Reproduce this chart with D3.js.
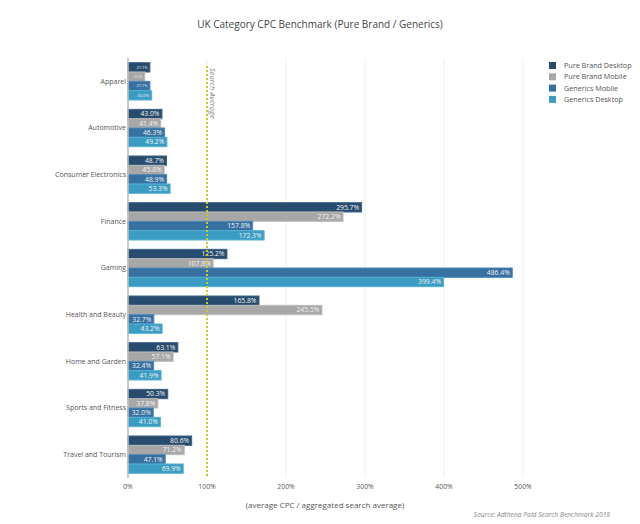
<!DOCTYPE html>
<html>
<head>
<meta charset="utf-8">
<script src="https://cdn.jsdelivr.net/npm/d3@7"></script>
<style>
  body { margin: 0; background: #fff; }
  text { font-family: "Open Sans", sans-serif; }
</style>
</head>
<body>
<div id="chart"></div>
<script>
const categories = ["Apparel", "Automotive", "Consumer Electronics", "Finance", "Gaming",
  "Health and Beauty", "Home and Garden", "Sports and Fitness", "Travel and Tourism"];
const seriesNames = ["Pure Brand Desktop", "Pure Brand Mobile", "Generics Mobile", "Generics Desktop"];
const seriesColors = ["#284c6e", "#a7a7a7", "#3771a2", "#3a9cc2"];
const seriesStroke = ["#3d6489", "#bdbdbd", "#4d87b8", "#56b2d4"];
const pureBrandDesktop = [27.7, 43.0, 48.7, 295.7, 125.2, 165.8, 63.1, 50.3, 80.6];
const pureBrandMobile = [21.2, 41.4, 45.8, 272.2, 107.8, 245.5, 57.1, 37.8, 71.2];
const genericsMobile = [27.7, 46.3, 48.9, 157.8, 486.4, 32.7, 32.4, 32.0, 47.1];
const genericsDesktop = [30.0, 49.2, 53.3, 172.3, 399.4, 43.2, 41.9, 41.0, 69.9];
const xTicks = [0, 100, 200, 300, 400, 500];
const searchAverage = 100;

const series = [pureBrandDesktop, pureBrandMobile, genericsMobile, genericsDesktop];

const width = 640, height = 524;
const margin = { top: 58, right: 38, bottom: 46, left: 128 };

const svg = d3.select("#chart").append("svg")
  .attr("width", width)
  .attr("height", height);

const x = d3.scaleLinear().domain([0, 600]).range([margin.left, width - margin.right]);
const y = d3.scaleBand().domain(categories).range([margin.top, height - margin.bottom]).paddingInner(0.2).paddingOuter(0.1);
const ySub = d3.scaleBand().domain(d3.range(4)).range([0, y.bandwidth()]);

// grid
svg.append("g")
  .selectAll("line")
  .data(xTicks.filter(d => d > 0))
  .join("line")
  .attr("x1", d => x(d)).attr("x2", d => x(d))
  .attr("y1", margin.top).attr("y2", height - margin.bottom)
  .attr("stroke", "#eeeeee")
  .attr("stroke-width", 1);

// bars
const groups = svg.append("g")
  .selectAll("g")
  .data(categories)
  .join("g")
  .attr("transform", d => `translate(0,${y(d)})`);

groups.each(function (cat, ci) {
  const g = d3.select(this);
  series.forEach((vals, si) => {
    const v = vals[ci];
    const bw = x(v) - x(0);
    g.append("rect")
      .attr("x", x(0))
      .attr("y", ySub(si))
      .attr("width", bw)
      .attr("height", ySub.bandwidth())
      .attr("fill", seriesColors[si])
      .attr("stroke", seriesStroke[si])
      .attr("stroke-width", 1);
    const t = g.append("text")
      .attr("x", x(v) - 2.5)
      .attr("y", ySub(si) + ySub.bandwidth() / 2)
      .attr("dy", "0.35em")
      .attr("text-anchor", "end")
      .attr("fill", "#f2f2f2")
      .style("font-size", "6.8px")
      .text(v.toFixed(1) + "%");
    // shrink label when the bar is too short (like plotly does)
    if (bw < 25) {
      const tw = t.node().getComputedTextLength();
      t.style("font-size", (6.8 * (bw * 0.5) / tw) + "px");
    }
  });
});

// zero line
svg.append("line")
  .attr("x1", x(0)).attr("x2", x(0))
  .attr("y1", margin.top).attr("y2", height - margin.bottom)
  .attr("stroke", "#bbbbbb")
  .attr("stroke-width", 1.5);

// search average line
svg.append("line")
  .attr("x1", x(searchAverage)).attr("x2", x(searchAverage))
  .attr("y1", margin.top + 8).attr("y2", height - margin.bottom)
  .attr("stroke", "#c9c92a")
  .attr("stroke-width", 2)
  .attr("stroke-dasharray", "2,2");

svg.append("text")
  .attr("transform", `translate(${x(searchAverage) + 3},${margin.top + 10}) rotate(90)`)
  .attr("fill", "#888")
  .style("font-size", "7.5px")
  .style("font-style", "italic")
  .text("Search Average");

// y axis labels
svg.append("g")
  .selectAll("text")
  .data(categories)
  .join("text")
  .attr("x", margin.left - 2)
  .attr("y", d => y(d) + y.bandwidth() / 2)
  .attr("dy", "0.35em")
  .attr("text-anchor", "end")
  .attr("fill", "#555")
  .style("font-size", "7px")
  .text(d => d);

// x tick labels
svg.append("g")
  .selectAll("text")
  .data(xTicks)
  .join("text")
  .attr("x", d => x(d))
  .attr("y", height - margin.bottom + 9)
  .attr("dy", "0.35em")
  .attr("text-anchor", "middle")
  .attr("fill", "#555")
  .style("font-size", "6.8px")
  .text(d => d + "%");

// titles
svg.append("text")
  .attr("x", 320).attr("y", 28)
  .attr("text-anchor", "middle")
  .attr("fill", "#444")
  .style("font-size", "10px")
  .text("UK Category CPC Benchmark (Pure Brand / Generics)");

svg.append("text")
  .attr("x", 325).attr("y", 508)
  .attr("text-anchor", "middle")
  .attr("fill", "#555")
  .style("font-size", "8px")
  .text("(average CPC / aggregated search average)");

svg.append("text")
  .attr("x", 610).attr("y", 517)
  .attr("text-anchor", "end")
  .attr("fill", "#888")
  .style("font-size", "6.7px")
  .style("font-style", "italic")
  .text("Source: Adthena Paid Search Benchmark 2018");

// legend
const legend = svg.append("g")
  .selectAll("g")
  .data(seriesNames)
  .join("g")
  .attr("transform", (d, i) => `translate(549,${62 + i * 11.3})`);

legend.append("rect")
  .attr("width", 7).attr("height", 7)
  .attr("fill", (d, i) => seriesColors[i]);

legend.append("text")
  .attr("x", 15).attr("y", 3.5)
  .attr("dy", "0.35em")
  .attr("fill", "#555")
  .style("font-size", "7.2px")
  .text(d => d);
</script>
</body>
</html>
